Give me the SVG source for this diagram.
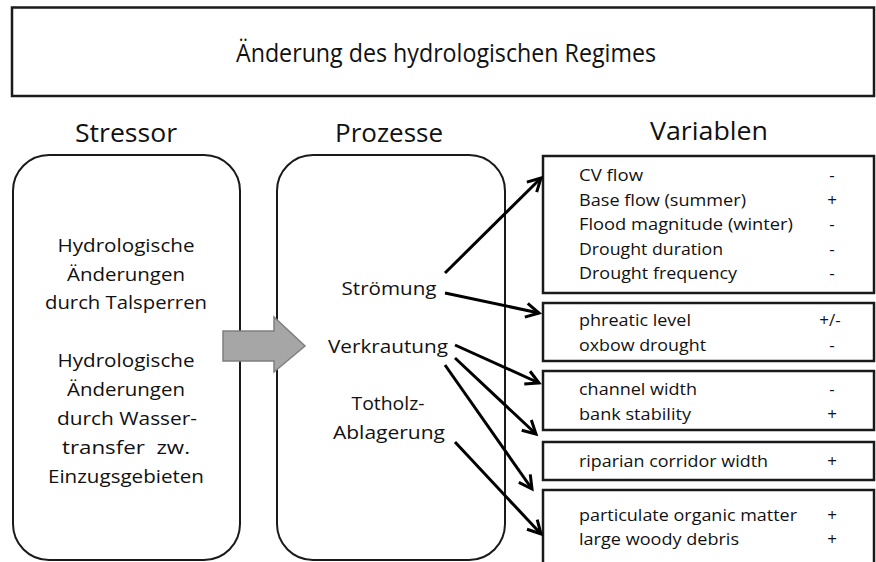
<svg xmlns="http://www.w3.org/2000/svg" width="876" height="562" viewBox="0 0 876 562">
<style>
text{font-family:"Open Sans","Liberation Sans",sans-serif;fill:#111}
.h{font-size:25px;text-anchor:middle}
.s{font-size:18.5px;text-anchor:middle}
.v{font-size:17px}
.sg{font-size:17px;text-anchor:middle}
.box{fill:#fff;stroke:#1a1a1a;stroke-width:2.5}
.rbox{fill:#fff;stroke:#1a1a1a;stroke-width:2}
.con{stroke:#000;stroke-width:3;fill:none;marker-end:url(#ah)}
</style>
<defs>
<marker id="ah" markerUnits="userSpaceOnUse" markerWidth="20" markerHeight="20" refX="0" refY="0" viewBox="-16 -10 20 20" orient="auto" overflow="visible">
<path d="M-13,-7 L0,0 L-13,7" fill="none" stroke="#000" stroke-width="3" stroke-linejoin="miter"/>
</marker>
</defs>
<rect width="876" height="562" fill="#fff"/>
<g id="title">
<rect class="box" x="12" y="7.5" width="862" height="88.5" stroke-width="3"/>
<text class="h" x="446" y="62" font-size="27" textLength="420" lengthAdjust="spacingAndGlyphs">Änderung des hydrologischen Regimes</text>
</g>
<g id="stressor">
<text class="h" x="126" y="142" textLength="102" lengthAdjust="spacingAndGlyphs">Stressor</text>
<rect class="rbox" x="13" y="155" width="227" height="405" rx="36" ry="36"/>
<text class="s" x="126" y="252" textLength="137" lengthAdjust="spacingAndGlyphs">Hydrologische</text>
<text class="s" x="126" y="281" textLength="118" lengthAdjust="spacingAndGlyphs">Änderungen</text>
<text class="s" x="126" y="309" textLength="162" lengthAdjust="spacingAndGlyphs">durch Talsperren</text>
<text class="s" x="126" y="367" textLength="137" lengthAdjust="spacingAndGlyphs">Hydrologische</text>
<text class="s" x="126" y="396" textLength="118" lengthAdjust="spacingAndGlyphs">Änderungen</text>
<text class="s" x="127" y="425" textLength="140" lengthAdjust="spacingAndGlyphs">durch Wasser-</text>
<text class="s" x="126" y="454" textLength="128" lengthAdjust="spacingAndGlyphs" xml:space="preserve">transfer  zw.</text>
<text class="s" x="126" y="483" textLength="156" lengthAdjust="spacingAndGlyphs">Einzugsgebieten</text>
</g>
<g id="prozesse">
<text class="h" x="389" y="142" textLength="108" lengthAdjust="spacingAndGlyphs">Prozesse</text>
<rect class="rbox" x="277" y="155" width="228" height="405" rx="36" ry="36"/>
<text class="s" x="389" y="295" textLength="95" lengthAdjust="spacingAndGlyphs">Strömung</text>
<text class="s" x="388" y="353" textLength="120" lengthAdjust="spacingAndGlyphs">Verkrautung</text>
<text class="s" x="388" y="410" textLength="73" lengthAdjust="spacingAndGlyphs">Totholz-</text>
<text class="s" x="389" y="439" textLength="112" lengthAdjust="spacingAndGlyphs">Ablagerung</text>
</g>
<g id="bigarrow">
<path d="M223,331 H274 V317 L305,346 L274,372 V361 H223 Z" fill="#a6a6a6" stroke="#7f7f7f" stroke-width="1.5"/>
</g>
<g id="variablen">
<text class="h" x="709" y="140" textLength="118" lengthAdjust="spacingAndGlyphs">Variablen</text>
</g>
<g id="var1">
<rect class="box" x="543" y="156" width="331" height="137"/>
<text class="v" x="579" y="181" textLength="64" lengthAdjust="spacingAndGlyphs">CV flow</text>
<text class="v" x="579" y="206" textLength="167" lengthAdjust="spacingAndGlyphs">Base flow (summer)</text>
<text class="v" x="579" y="230" textLength="214" lengthAdjust="spacingAndGlyphs">Flood magnitude (winter)</text>
<text class="v" x="579" y="255" textLength="144" lengthAdjust="spacingAndGlyphs">Drought duration</text>
<text class="v" x="579" y="279" textLength="158" lengthAdjust="spacingAndGlyphs">Drought frequency</text>
<text class="sg" x="832" y="181">-</text>
<text class="sg" x="832" y="206">+</text>
<text class="sg" x="832" y="230">-</text>
<text class="sg" x="832" y="255">-</text>
<text class="sg" x="832" y="279">-</text>
</g>
<g id="var2">
<rect class="box" x="543" y="303" width="331" height="58"/>
<text class="v" x="579" y="326" textLength="112" lengthAdjust="spacingAndGlyphs">phreatic level</text>
<text class="v" x="579" y="351" textLength="127" lengthAdjust="spacingAndGlyphs">oxbow drought</text>
<text class="sg" x="830" y="326">+/-</text>
<text class="sg" x="832" y="351">-</text>
</g>
<g id="var3">
<rect class="box" x="543" y="371" width="331" height="59"/>
<text class="v" x="579" y="395" textLength="118" lengthAdjust="spacingAndGlyphs">channel width</text>
<text class="v" x="579" y="420" textLength="112" lengthAdjust="spacingAndGlyphs">bank stability</text>
<text class="sg" x="832" y="395">-</text>
<text class="sg" x="832" y="420">+</text>
</g>
<g id="var4">
<rect class="box" x="543" y="442" width="331" height="38"/>
<text class="v" x="579" y="467" textLength="189" lengthAdjust="spacingAndGlyphs">riparian corridor width</text>
<text class="sg" x="832" y="467">+</text>
</g>
<g id="var5">
<rect class="box" x="543" y="490" width="331" height="80"/>
<text class="v" x="579" y="521" textLength="218" lengthAdjust="spacingAndGlyphs">particulate organic matter</text>
<text class="v" x="579" y="545" textLength="160" lengthAdjust="spacingAndGlyphs">large woody debris</text>
<text class="sg" x="832" y="521">+</text>
<text class="sg" x="832" y="545">+</text>
</g>
<g id="connectors">
<line class="con" x1="445" y1="273" x2="541" y2="178"/>
<line class="con" x1="445" y1="293" x2="539" y2="313"/>
<line class="con" x1="455" y1="345" x2="539" y2="383"/>
<line class="con" x1="455" y1="358" x2="536" y2="434"/>
<line class="con" x1="445" y1="365" x2="532" y2="489"/>
<line class="con" x1="455" y1="442" x2="541" y2="534"/>
</g>
</svg>
